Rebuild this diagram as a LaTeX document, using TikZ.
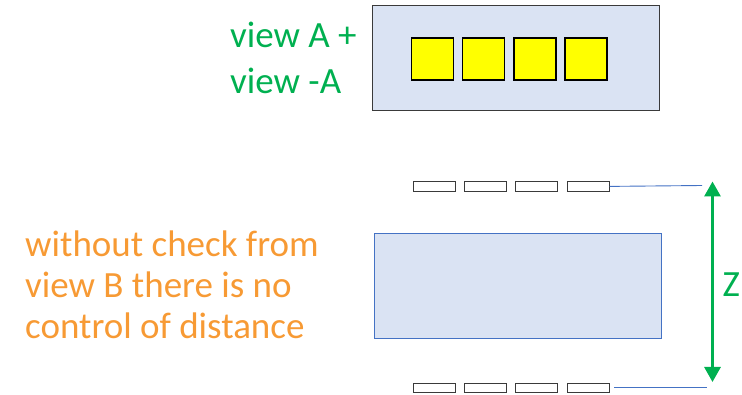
\documentclass[tikz,border=0pt]{standalone}
\usepackage{fontspec}
\setmainfont{Carlito}
\usetikzlibrary{arrows.meta}
\definecolor{panelfill}{HTML}{DAE3F3}
\definecolor{panelblue}{HTML}{4472C4}
\definecolor{darkedge}{HTML}{3A3A3A}
\definecolor{okgreen}{HTML}{00B050}
\definecolor{warnorange}{HTML}{F79A34}
\definecolor{pixyellow}{HTML}{FFFF00}
\tikzset{
  panel/.style={draw, fill=panelfill, minimum width=287pt, minimum height=105pt, inner sep=0pt, anchor=north west},
  pixel/.style={draw=black, line width=1.6pt, fill=pixyellow, minimum width=42pt, minimum height=42pt, inner sep=0pt, anchor=north west},
  strip/.style={draw=darkedge, line width=0.9pt, fill=white, minimum width=42pt, minimum height=9.5pt, inner sep=0pt, anchor=north west},
  lead/.style={draw=panelblue, line width=0.9pt},
  dimarrow/.style={draw=okgreen, line width=3pt, {Triangle[width=16pt,length=15pt]}-{Triangle[width=16pt,length=15pt]}},
  caption/.style={font=\fontsize{37}{41}\selectfont, align=left, inner sep=0pt, anchor=base west}
}
\begin{document}
\begin{tikzpicture}[x=1pt,y=-1pt]
  \useasboundingbox (0,0) rectangle (742,395);

  % upper module seen in view A / -A
  \node[panel, draw=darkedge, line width=1.3pt] (modA) at (371.5,5) {};
  \node[pixel] (p1) at (410.5,37.5) {};
  \node[pixel] (p2) at (461.8,37.5) {};
  \node[pixel] (p3) at (513.1,37.5) {};
  \node[pixel] (p4) at (564.4,37.5) {};
  % base anchor sits on the last line
  \node[caption, text=okgreen, font=\fontsize{37}{46}\selectfont] (lblA) at (230,94) {view A +\\view -A};

  % lower module with two sensor rows
  \node[panel, draw=panelblue, line width=1.1pt] (modB) at (373.5,233) {};
  \node[strip] (t1) at (412.5,181.2) {};
  \node[strip] (t2) at (463.8,181.2) {};
  \node[strip] (t3) at (515.1,181.2) {};
  \node[strip] (t4) at (566.6,181.2) {};
  \node[strip] (b1) at (412.5,382.8) {};
  \node[strip] (b2) at (463.8,382.8) {};
  \node[strip] (b3) at (515.1,382.8) {};
  \node[strip] (b4) at (566.6,382.8) {};

  % reference lines and distance z
  \coordinate (topend) at (702,185.5);
  \coordinate (botstart) at (614,387.5);
  \coordinate (botend) at (707,387.5);
  \draw[lead] (t4.east) -- (topend);
  \draw[lead] (botstart) -- (botend);
  \coordinate (ztop) at (712.5,181.5);
  \coordinate (zbot) at (712.5,382);
  \draw[dimarrow] (ztop) -- (zbot);
  \node[caption, text=okgreen] (zlbl) at (722.5,297) {Z};

  \node[caption, text=warnorange] (note) at (25,339) {without check from\\view B there is no\\control of distance};
\end{tikzpicture}
\end{document}
